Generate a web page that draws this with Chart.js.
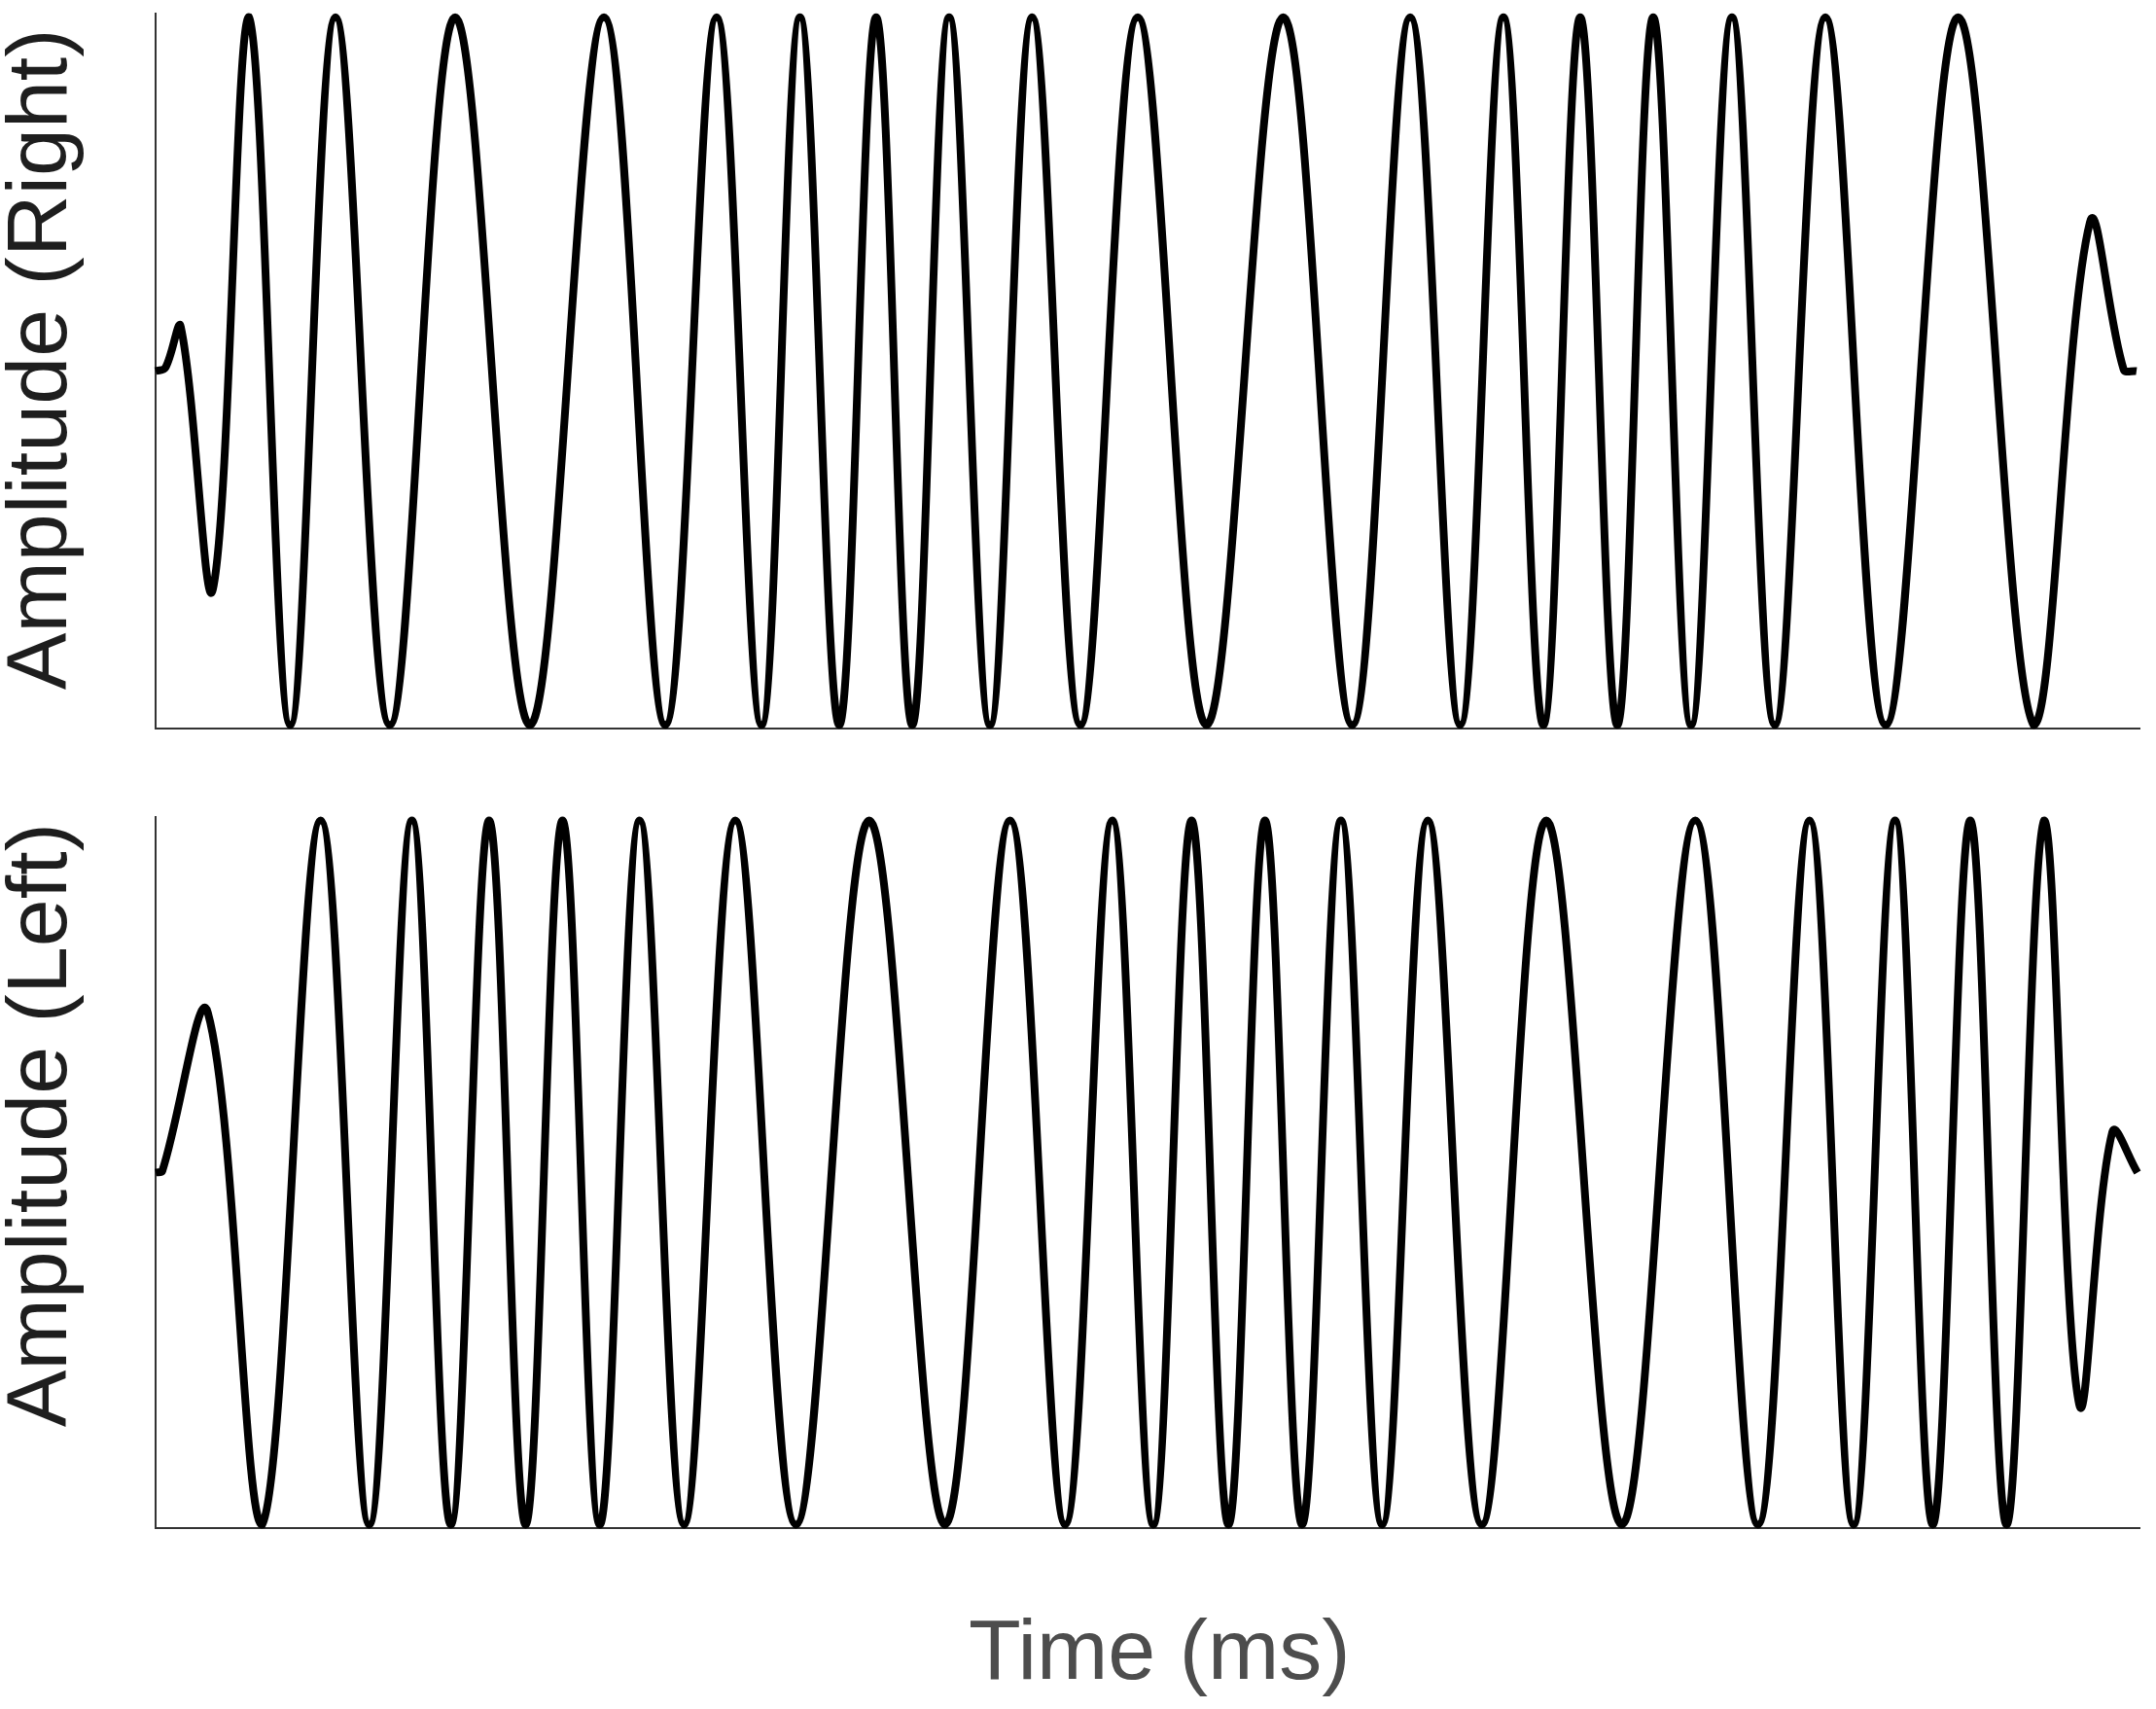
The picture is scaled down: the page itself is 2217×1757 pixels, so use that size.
<!DOCTYPE html>
<html><head><meta charset="utf-8">
<script src="https://cdn.jsdelivr.net/npm/chart.js@4.4.1/dist/chart.umd.min.js"></script>
<style>
html,body{margin:0;padding:0;background:#fff;width:2217px;height:1757px;overflow:hidden}
#c1{position:absolute;left:0;top:0}
#c2{position:absolute;left:0;top:820px}
</style></head><body>
<canvas id="c1" width="2217" height="770"></canvas>
<canvas id="c2" width="2217" height="937"></canvas>
<script>
// Extrema of the waveforms (time in ms on a 0-100 span, amplitude normalised)
const rightTime = [0, 0.5, 1.27, 2.89, 4.71, 6.79, 9.07, 11.81, 15.10, 18.87, 22.60, 25.69, 28.28, 30.54, 32.48, 34.46, 36.32, 38.14, 40.00, 42.06, 44.19, 46.62, 49.51, 52.97, 56.84, 60.32, 63.24, 65.76, 67.94, 69.95, 71.81, 73.68, 75.49, 77.40, 79.46, 81.62, 84.17, 87.21, 90.86, 94.66, 97.50, 99.20, 99.85];
const rightAmp  = [0, 0.01, 0.125, -0.616, 1, -1, 1, -1, 1, -1, 1, -1, 1, -1, 1, -1, 1, -1, 1, -1, 1, -1, 1, -1, 1, -1, 1, -1, 1, -1, 1, -1, 1, -1, 1, -1, 1, -1, 1, -1, 0.42, 0.005, 0];
const leftTime  = [0, 0.34, 2.63, 5.37, 8.32, 10.77, 12.92, 14.88, 16.81, 18.65, 20.51, 22.39, 24.40, 26.64, 29.22, 32.28, 35.97, 39.79, 43.07, 45.85, 48.22, 50.29, 52.22, 54.08, 55.92, 57.79, 59.75, 61.83, 64.13, 66.85, 70.10, 73.91, 77.61, 80.77, 83.37, 85.59, 87.68, 89.58, 91.47, 93.30, 95.19, 96.96, 98.63, 99.90];
const leftAmp   = [0, 0.005, 0.455, -1, 1, -1, 1, -1, 1, -1, 1, -1, 1, -1, 1, -1, 1, -1, 1, -1, 1, -1, 1, -1, 1, -1, 1, -1, 1, -1, 1, -1, 1, -1, 1, -1, 1, -1, 1, -1, 1, -0.658, 0.115, 0];
const xTitle = 'Time (ms)';
const rightTitle = 'Amplitude (Right)';
const leftTitle = 'Amplitude (Left)';

const FONT = "'Liberation Sans', Arial, Helvetica, sans-serif";
const AXIS = '#333333';

function pts(t, a) { return t.map((x, i) => ({x: x, y: a[i]})); }

function makeChart(id, times, amps, yTitle, yPad, withX, layoutPad) {
  return new Chart(document.getElementById(id), {
    type: 'line',
    data: { datasets: [{
      data: pts(times, amps),
      borderColor: '#000000',
      borderWidth: 8,
      pointRadius: 0,
      fill: false,
      tension: 0.37,
      clip: false
    }]},
    options: {
      responsive: false,
      animation: false,
      events: [],
      layout: { padding: layoutPad },
      plugins: { legend: { display: false }, tooltip: { enabled: false } },
      scales: {
        x: {
          type: 'linear', min: 0, max: 100,
          ticks: { display: false },
          grid: { display: false, drawTicks: false },
          border: { display: true, color: AXIS, width: 2 },
          title: withX ? {
            display: true, text: ' ' + xTitle, color: '#4d4d4d',
            font: { family: FONT, size: 88, lineHeight: 1 },
            padding: { top: 86.5, bottom: 0 }
          } : { display: false }
        },
        y: {
          min: -1.01, max: 1.01,
          ticks: { display: false },
          grid: { display: false, drawTicks: false },
          border: { display: true, color: AXIS, width: 2 },
          title: {
            display: true, text: yPad + yTitle, color: '#1e1e1e',
            font: { family: FONT, size: 88, lineHeight: 1 },
            padding: { top: 0, bottom: 72 }
          }
        }
      }
    }
  });
}

makeChart('c1', rightTime, rightAmp, rightTitle, ' ', false, {left: 0, right: 17, top: 14, bottom: 21});
makeChart('c2', leftTime, leftAmp, leftTitle, '    ', true, {left: 0, right: 17, top: 20, bottom: 11.5});
</script>
</body></html>
